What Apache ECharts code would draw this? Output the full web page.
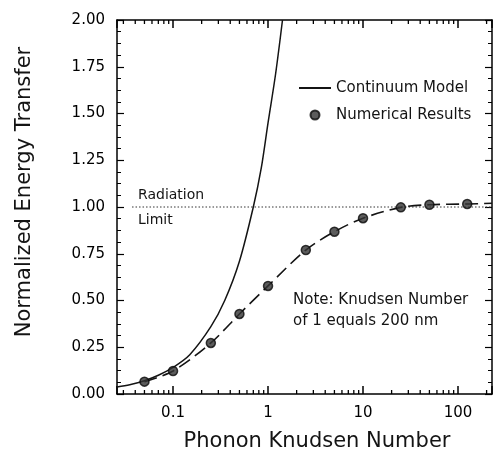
<!DOCTYPE html>
<html>
<head>
<meta charset="utf-8">
<title>Normalized Energy Transfer vs Phonon Knudsen Number</title>
<script src="https://cdn.jsdelivr.net/npm/echarts@6/dist/echarts.min.js"></script>
<style>
  html, body { margin: 0; padding: 0; background: #fff; }
  #chart { width: 497px; height: 455px; }
</style>
</head>
<body>
<div id="chart"></div>
<script>
// Continuum model curve (Knudsen number, normalized energy transfer)
const continuumKn = [0.0257, 0.035, 0.05, 0.07, 0.1, 0.15, 0.25, 0.35, 0.5, 0.7, 0.85, 1.0, 1.2, 1.42];
const continuumE  = [0.038, 0.05, 0.071, 0.10, 0.142, 0.21, 0.36, 0.50, 0.71, 1.0, 1.21, 1.45, 1.71, 2.0];

// Numerical results (markers)
const numericKn = [0.05, 0.1, 0.25, 0.5, 1, 2.5, 5, 10, 25, 50, 125];
const numericE  = [0.066, 0.123, 0.273, 0.428, 0.578, 0.77, 0.868, 0.94, 0.998, 1.012, 1.016];

// Dashed fit through the numerical results, carried to the right edge
const fitKn = [0.05, 0.1, 0.25, 0.5, 1, 2.5, 5, 10, 25, 50, 125, 228];
const fitE  = [0.066, 0.123, 0.273, 0.428, 0.578, 0.77, 0.868, 0.94, 0.998, 1.012, 1.016, 1.02];

// Radiation limit
const radiationKn = [0.037, 228];
const radiationE  = [1.0, 1.0];

// Axis ranges and ticks
const xMin = 0.0257, xMax = 228;
const xTickLabels = [0.1, 1, 10, 100];
const xMinorTicks = [0.03, 0.04, 0.05, 0.06, 0.07, 0.08, 0.09,
                     0.2, 0.3, 0.4, 0.5, 0.6, 0.7, 0.8, 0.9,
                     2, 3, 4, 5, 6, 7, 8, 9,
                     20, 30, 40, 50, 60, 70, 80, 90, 200];
const yMin = 0, yMax = 2, yStep = 0.25;

const FONT = 'DejaVu Sans';
const INK = '#000000';

const zip = (a, b) => a.map((v, i) => [v, b[i]]);
const isDecadeLabel = v => xTickLabels.some(t => Math.abs(t - v) / t < 1e-6);

// Log axes along the bottom (with decade labels) and top of the frame;
// the decade ticks point into the plot
function logAxisCfg(position, withLabels) {
  return {
    type: 'log',
    min: xMin,
    max: xMax,
    position: position,
    splitLine: { show: false },
    axisLine: { show: true, onZero: false, lineStyle: { color: INK, width: 1.5 } },
    axisTick: { show: true, inside: true, length: 8, lineStyle: { color: INK, width: 1.5 } },
    axisLabel: withLabels
      ? { show: true, margin: 12, fontSize: 15, color: INK, fontFamily: FONT,
          formatter: v => (isDecadeLabel(v) ? String(+Number(v).toPrecision(6)) : '') }
      : { show: false }
  };
}

function yAxisCfg(position, withLabels) {
  return {
    type: 'value',
    min: yMin,
    max: yMax,
    interval: yStep,
    position: position,
    splitLine: { show: false },
    axisLine: { show: true, onZero: false, lineStyle: { color: INK, width: 1.5 } },
    axisTick: { show: true, inside: true, length: 7, lineStyle: { color: INK, width: 1.2 } },
    minorTick: { show: true, splitNumber: 4, length: 4, lineStyle: { color: INK, width: 1 } },
    axisLabel: withLabels
      ? { show: true, margin: 12, fontSize: 15, color: INK, fontFamily: FONT,
          formatter: v => v.toFixed(2) }
      : { show: false }
  };
}

// Short 2..9 ticks of each decade on the bottom and top edges
function renderMinorTick(params, api) {
  const v = api.value(0);
  const b = api.coord([v, yMin]);
  const t = api.coord([v, yMax]);
  return {
    type: 'group',
    children: [
      { type: 'line', shape: { x1: b[0], y1: b[1], x2: b[0], y2: b[1] - 4 },
        style: { stroke: INK, lineWidth: 1.3 } },
      { type: 'line', shape: { x1: t[0], y1: t[1], x2: t[0], y2: t[1] + 4 },
        style: { stroke: INK, lineWidth: 1.3 } }
    ]
  };
}

const chart = echarts.init(document.getElementById('chart'));

chart.setOption({
  animation: false,
  grid: { left: 117, right: 5, top: 20, bottom: 61 },
  xAxis: [
    logAxisCfg('bottom', true),
    logAxisCfg('top', false)
  ],
  yAxis: [
    yAxisCfg('left', true),
    yAxisCfg('right', false)
  ],
  legend: {
    orient: 'vertical',
    left: 293,
    top: 75,
    itemWidth: 32,
    itemHeight: 9,
    itemGap: 11,
    data: [
      { name: 'Continuum Model', itemStyle: { opacity: 0 } },
      { name: 'Numerical Results' }
    ],
    textStyle: { fontSize: 15, color: '#141414', fontFamily: FONT, lineHeight: 16 }
  },
  series: [
    {
      name: 'minor x ticks',
      type: 'custom',
      xAxisIndex: 0, yAxisIndex: 0,
      data: xMinorTicks.map(v => [v, yMin]),
      renderItem: renderMinorTick,
      clip: false,
      silent: true,
      z: 6
    },
    {
      name: 'Continuum Model',
      type: 'line',
      xAxisIndex: 0, yAxisIndex: 0,
      data: zip(continuumKn, continuumE),
      symbol: 'none',
      smooth: 0.3,
      lineStyle: { color: '#141414', width: 1.5 },
      itemStyle: { color: '#141414' },
      z: 3
    },
    {
      name: 'Fit',
      type: 'line',
      xAxisIndex: 0, yAxisIndex: 0,
      data: zip(fitKn, fitE),
      symbol: 'none',
      smooth: 0.3,
      lineStyle: { color: '#141414', width: 1.6, type: [13, 6] },
      z: 3
    },
    {
      name: 'Radiation Limit',
      type: 'line',
      xAxisIndex: 0, yAxisIndex: 0,
      data: zip(radiationKn, radiationE),
      symbol: 'none',
      lineStyle: { color: '#333', width: 1, type: [1.5, 2] },
      z: 2
    },
    {
      name: 'Numerical Results',
      type: 'scatter',
      xAxisIndex: 0, yAxisIndex: 0,
      data: zip(numericKn, numericE),
      symbol: 'circle',
      symbolSize: 9,
      itemStyle: { color: '#333', borderColor: '#0a0a0a', borderWidth: 1.5 },
      z: 5
    }
  ],
  graphic: [
    {
      type: 'text', left: 138, top: 188,
      style: { text: 'Radiation', fontSize: 14, fontFamily: FONT, fill: '#141414' }
    },
    {
      type: 'text', left: 138, top: 213,
      style: { text: 'Limit', fontSize: 14, fontFamily: FONT, fill: '#141414' }
    },
    {
      type: 'text', left: 293, top: 293,
      style: { text: 'Note: Knudsen Number', fontSize: 15, fontFamily: FONT, fill: '#141414' }
    },
    {
      type: 'text', left: 293, top: 314,
      style: { text: 'of 1 equals 200 nm', fontSize: 15, fontFamily: FONT, fill: '#141414' }
    },
    {
      type: 'text', x: 25, y: 192, rotation: Math.PI / 2,
      style: { text: 'Normalized Energy Transfer', fontSize: 21, fontFamily: FONT, fill: '#141414',
               align: 'center', verticalAlign: 'middle' }
    },
    {
      type: 'text', x: 317, y: 442,
      style: { text: 'Phonon Knudsen Number', fontSize: 21, fontFamily: FONT, fill: '#141414',
               align: 'center', verticalAlign: 'middle' }
    }
  ]
});
</script>
</body>
</html>
